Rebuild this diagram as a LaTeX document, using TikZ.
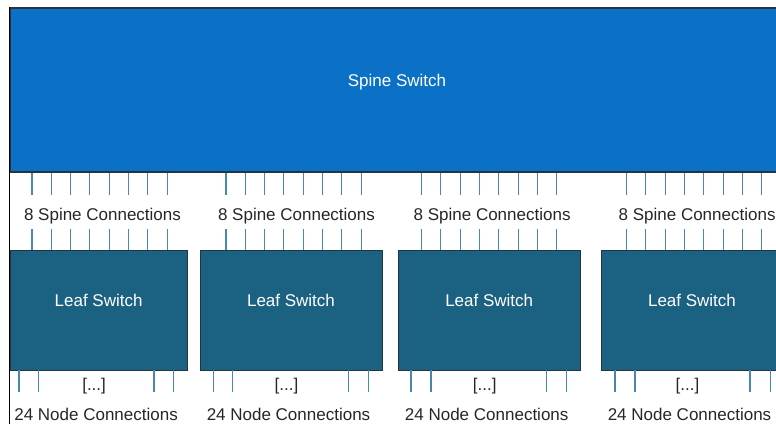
\documentclass[tikz,border=0pt]{standalone}
\usepackage{fontspec}
\setmainfont{Liberation Sans}

\definecolor{spineblue}{RGB}{10,113,198}
\definecolor{leafblue}{RGB}{27,98,130}
\definecolor{linkblue}{RGB}{72,135,175}
\definecolor{edgegray}{RGB}{38,52,62}

\tikzset{
    boxtext/.style={text=white, text height=12pt, text depth=20pt, inner sep=0pt},
    spinebox/.style={boxtext, fill=spineblue, draw=edgegray, line width=1.4pt,
        minimum width=774pt, minimum height=164pt},
    leafbox/.style={boxtext, fill=leafblue, draw=edgegray, line width=0.9pt,
        minimum height=120pt},
    link/.style={linkblue, line width=1.1pt},
    caption/.style={anchor=base, inner sep=0pt, text=black!85}
}

\begin{document}
\begin{tikzpicture}[x=1pt, y=-1pt, font=\fontsize{17}{20}\selectfont]
            \useasboundingbox (0,0) rectangle (776,424);

            % spine switch
            \node[spinebox] (spine) at (397,90) {Spine Switch};

            % leaf switches
            \foreach \n/\cx/\w in {1/98.6/177, 2/291/182, 3/489.2/182, 4/692/182}
                \node[leafbox, minimum width=\w pt] (leaf\n) at (\cx,310) {Leaf Switch};

            % spine connections
            \foreach \n/\s in {1/32, 2/226, 3/421.6, 4/626.6} {
                \foreach \i in {0,...,7} {
                    \pgfmathsetmacro{\x}{\s+19.3*\i}
                    \draw[link] (\x,0 |- spine.south) -- ++(0,22);
                    \draw[link] (\x,0 |- leaf\n.north) -- ++(0,-21);
                }
                \node[caption] (spinelbl\n) at (\s+70.5,220) {8 Spine Connections};
            }

            % node connections
            \foreach \n/\a/\b/\c/\d in {1/19/38.3/154/173.7, 2/213.3/232.7/348.3/368.3,
                                        3/411/431/546.7/566.7, 4/615/635/750/770.7} {
                \foreach \x in {\a,\b,\c,\d}
                    \draw[link] (\x,0 |- leaf\n.south) -- ++(0,22);
                \node[caption] (dots\n) at ([xshift=-4.5pt]leaf\n.center |- 0,390) {[...]};
                \node[caption] (nodelbl\n) at ([xshift=-2.5pt]leaf\n.center |- 0,420) {24 Node Connections};
            }

            \draw[black, line width=0.9pt] (spine.north west) -- (spine.north west |- 0,424);
        \end{tikzpicture}
\end{document}
